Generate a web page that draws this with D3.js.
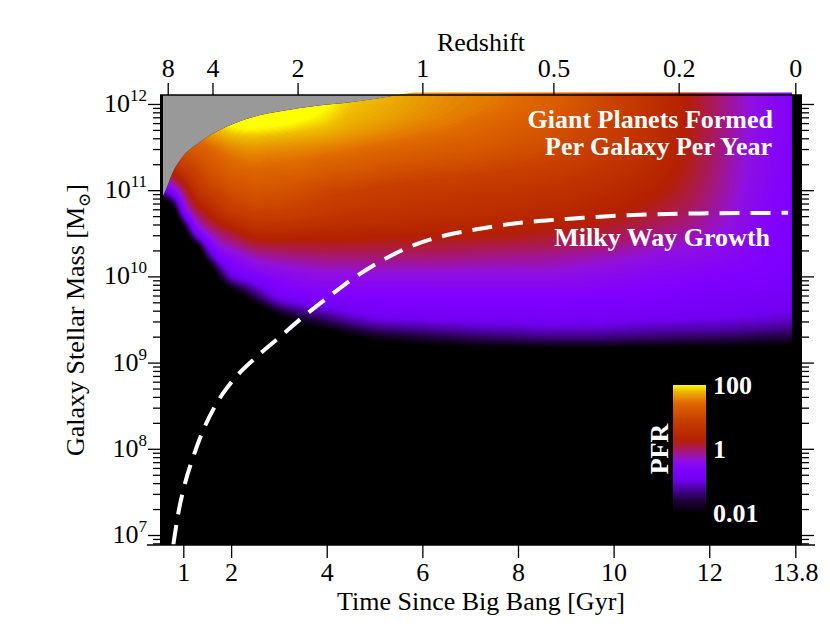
<!DOCTYPE html>
<html>
<head>
<meta charset="utf-8">
<script src="https://cdn.jsdelivr.net/npm/d3@7"></script>
<style>
  body { margin: 0; background: #fff; }
  svg { display: block; }
  text { font-family: 'Liberation Serif', 'DejaVu Serif', serif; }
</style>
</head>
<body>
<div id="chart"></div>
<script>
// ---- data ----
// heatmap grid: columns are cosmic time (Gyr), rows are log10 stellar mass
const timeGrid = [0.5, 1, 1.5, 2, 2.5, 3, 3.5, 4, 4.5, 5, 5.5, 6, 6.5, 7, 7.5,
                  8, 8.5, 9, 9.5, 10, 10.5, 11, 11.5, 12, 12.5, 13, 13.5, 14];
const massGrid = [12.25, 12, 11.75, 11.5, 11.25, 11, 10.75, 10.5, 10.25, 10, 9.75, 9.5, 9.25, 9];
// log10(PFR) per time column, top (high mass) to bottom
const pfrLog = [
  [0.3, 0.3, 0.3, 0.2, -0.2, -1.1, -3, -3, -3, -3, -3, -3, -3, -3],
  [1.3, 1.3, 1.3, 1.2, 0.8, 0.0, -0.7, -2.4, -3, -3, -3, -3, -3, -3],
  [1.9, 1.9, 1.8, 1.4, 1.15, 0.85, 0.3, -0.3, -1.4, -3, -3, -3, -3, -3],
  [2.3, 2.3, 2.0, 1.6, 1.35, 1.1, 0.8, 0.1, -0.45, -1.0, -2.6, -3, -3, -3],
  [2.4, 2.4, 2.05, 1.65, 1.42, 1.2, 0.95, 0.45, -0.2, -0.65, -1.6, -3, -3, -3],
  [2.4, 2.3, 2.0, 1.62, 1.4, 1.17, 0.92, 0.45, -0.12, -0.52, -0.88, -2.2, -3, -3],
  [2.3, 2.2, 1.92, 1.6, 1.37, 1.1, 0.86, 0.42, -0.07, -0.44, -0.74, -1.7, -2.8, -3],
  [2.1, 2.0, 1.85, 1.55, 1.3, 1.0, 0.78, 0.4, -0.02, -0.4, -0.68, -1.45, -2.6, -3],
  [1.9, 1.85, 1.75, 1.5, 1.24, 0.94, 0.72, 0.38, -0.02, -0.4, -0.66, -1.15, -2.3, -3],
  [1.8, 1.78, 1.67, 1.45, 1.18, 0.88, 0.68, 0.36, -0.02, -0.4, -0.65, -1.0, -2.0, -3],
  [1.72, 1.72, 1.62, 1.4, 1.13, 0.84, 0.65, 0.35, -0.02, -0.4, -0.65, -0.95, -1.9, -3],
  [1.66, 1.66, 1.56, 1.35, 1.08, 0.8, 0.62, 0.33, -0.03, -0.4, -0.64, -0.92, -1.8, -3],
  [1.6, 1.6, 1.5, 1.3, 1.05, 0.77, 0.59, 0.31, -0.05, -0.4, -0.64, -0.9, -1.72, -3],
  [1.55, 1.55, 1.44, 1.26, 1.01, 0.74, 0.56, 0.29, -0.07, -0.4, -0.64, -0.88, -1.65, -3],
  [1.5, 1.5, 1.38, 1.2, 0.97, 0.71, 0.53, 0.27, -0.09, -0.4, -0.64, -0.87, -1.6, -3],
  [1.45, 1.45, 1.3, 1.15, 0.93, 0.68, 0.5, 0.25, -0.1, -0.4, -0.64, -0.86, -1.55, -3],
  [1.35, 1.35, 1.22, 1.1, 0.88, 0.64, 0.46, 0.22, -0.12, -0.4, -0.64, -0.85, -1.52, -3],
  [1.25, 1.25, 1.12, 1.0, 0.81, 0.6, 0.42, 0.18, -0.15, -0.42, -0.65, -0.85, -1.5, -3],
  [1.1, 1.1, 1.0, 0.9, 0.74, 0.54, 0.36, 0.13, -0.2, -0.45, -0.66, -0.86, -1.5, -3],
  [0.95, 0.95, 0.88, 0.8, 0.65, 0.47, 0.3, 0.06, -0.25, -0.48, -0.68, -0.88, -1.52, -3],
  [0.75, 0.75, 0.7, 0.64, 0.53, 0.38, 0.22, -0.02, -0.31, -0.52, -0.7, -0.9, -1.55, -3],
  [0.52, 0.52, 0.5, 0.46, 0.38, 0.27, 0.13, -0.1, -0.36, -0.56, -0.72, -0.92, -1.58, -3],
  [0.28, 0.28, 0.28, 0.26, 0.21, 0.13, 0.02, -0.18, -0.41, -0.59, -0.75, -0.95, -1.6, -3],
  [0.04, 0.04, 0.04, 0.03, 0.0, -0.07, -0.15, -0.29, -0.46, -0.62, -0.77, -0.98, -1.62, -3],
  [-0.2, -0.2, -0.2, -0.21, -0.23, -0.27, -0.32, -0.4, -0.51, -0.64, -0.8, -1.0, -1.65, -3],
  [-0.4, -0.4, -0.4, -0.42, -0.44, -0.47, -0.5, -0.55, -0.6, -0.68, -0.82, -1.02, -1.7, -3],
  [-0.55, -0.55, -0.55, -0.56, -0.58, -0.6, -0.62, -0.64, -0.67, -0.72, -0.85, -1.05, -1.75, -3],
  [-0.6, -0.6, -0.6, -0.61, -0.62, -0.64, -0.66, -0.68, -0.7, -0.75, -0.88, -1.1, -1.8, -3]
];
// finer columns for the first 3 Gyr, where the band bends quickly
const timeGridEarly = [0.5, 0.75, 1, 1.25, 1.5, 1.75, 2, 2.25, 2.5, 2.75, 3];
const pfrLogEarly = [
  [0.3, 0.3, 0.3, 0.2, -0.2, -1.1, -3, -3, -3, -3, -3, -3, -3, -3],
  [0.9, 0.9, 0.9, 0.8, 0.4, -0.6, -2.6, -3, -3, -3, -3, -3, -3, -3],
  [1.3, 1.3, 1.3, 1.2, 0.8, 0.0, -0.7, -2.4, -3, -3, -3, -3, -3, -3],
  [1.6, 1.6, 1.6, 1.3, 0.95, 0.6, 0.0, -0.85, -3, -3, -3, -3, -3, -3],
  [1.9, 1.9, 1.8, 1.4, 1.15, 0.85, 0.3, -0.3, -1.4, -3, -3, -3, -3, -3],
  [2.1, 2.1, 1.9, 1.5, 1.25, 1.0, 0.6, -0.05, -0.6, -1.8, -3, -3, -3, -3],
  [2.3, 2.3, 2.0, 1.6, 1.35, 1.1, 0.8, 0.1, -0.45, -1.0, -2.6, -3, -3, -3],
  [2.4, 2.4, 2.05, 1.63, 1.4, 1.15, 0.88, 0.3, -0.32, -0.8, -2.1, -3, -3, -3],
  [2.4, 2.4, 2.05, 1.65, 1.42, 1.2, 0.95, 0.45, -0.2, -0.65, -1.6, -3, -3, -3],
  [2.4, 2.35, 2.03, 1.64, 1.41, 1.18, 0.93, 0.45, -0.15, -0.57, -1.2, -2.6, -3, -3],
  [2.4, 2.3, 2.0, 1.62, 1.4, 1.17, 0.92, 0.45, -0.12, -0.52, -0.88, -2.2, -3, -3]
];

// upper edge of the populated region (above it: grey, no galaxies)
const edgeTime = [0.5, 0.58, 0.79, 0.99, 1.35, 1.7, 2.4, 3.09, 3.79, 4.49, 5.68, 6.5, 14];
const edgeLogM = [10.88, 10.94, 11.22, 11.39, 11.56, 11.68, 11.84, 11.92, 11.98, 12.02, 12.12, 12.2, 12.2];

// Milky Way growth track
const mwTime = [0.79, 0.895, 1.036, 1.209, 1.418, 1.699, 2.046, 2.536, 3.023, 3.51, 4.0, 4.556,
                5.115, 5.743, 6.51, 7.138, 7.836, 8.531, 9.23, 9.717, 10.76, 11.81, 12.8, 13.65];
const mwLogM = [6.884, 7.252, 7.6, 7.908, 8.218, 8.528, 8.798, 9.068, 9.3, 9.532, 9.746, 9.978,
                10.171, 10.345, 10.48, 10.546, 10.608, 10.646, 10.674, 10.693, 10.718, 10.73, 10.735, 10.737];

const timeTicks = [1, 2, 4, 6, 8, 10, 12, 13.8];
const redshiftLabels = ['8', '4', '2', '1', '0.5', '0.2', '0'];
const redshiftTimes = [0.674, 1.61, 3.39, 6.0, 8.74, 11.36, 13.8];
const massDecades = [7, 8, 9, 10, 11, 12];
const legendTicks = [100, 1, 0.01];
const legendLabels = ['100', '1', '0.01'];

// colour map for log10(PFR)
const cmapStops = [-2, -1.6, -0.96, -0.64, -0.34, -0.04, 0.28, 0.92, 1.44, 1.84, 2];
const cmapColors = ['#000000', '#200040', '#7000f0', '#8000ff', '#9010e0', '#a8186a',
                    '#b42000', '#c84000', '#e06800', '#f0c000', '#ffff00'];

// ---- layout ----
const W = 830, H = 642;
const plot = { left: 160, right: 802, top: 95, bottom: 545 };
const dataEnd = 13.73;
const serif = 'Liberation Serif';

const x = d3.scaleLinear().domain([0.5, 13.94]).range([159.4, 802]);
const y = d3.scaleLog().domain([10 ** 6.884, 10 ** 12.104]).range([545, 95]);
const ym = lm => y(10 ** lm);
const color = d3.scaleLinear().domain(cmapStops).range(cmapColors).clamp(true);

const svg = d3.select('#chart').append('svg')
  .attr('width', W).attr('height', H)
  .attr('font-family', serif);
svg.append('rect').attr('width', W).attr('height', H).attr('fill', '#fff');

const defs = svg.append('defs');
defs.append('clipPath').attr('id', 'plotClip').append('rect')
  .attr('x', plot.left).attr('y', plot.top)
  .attr('width', plot.right - plot.left).attr('height', plot.bottom - plot.top);
defs.append('clipPath').attr('id', 'dataClip').append('rect')
  .attr('x', plot.left).attr('y', plot.top - 2.5)
  .attr('width', x(dataEnd) - plot.left).attr('height', plot.bottom - plot.top + 2.5);

const edgePts = edgeTime.map((t, i) => [t, edgeLogM[i]]);
const belowEdge = d3.area()
  .x(d => x(d[0])).y0(plot.bottom).y1(d => ym(d[1]))
  .curve(d3.curveMonotoneX);
defs.append('clipPath').attr('id', 'edgeClip').append('path')
  .attr('d', belowEdge(edgePts));

// plot background
svg.append('rect')
  .attr('x', plot.left).attr('y', plot.top)
  .attr('width', plot.right - plot.left).attr('height', plot.bottom - plot.top)
  .attr('fill', '#000');

// ---- heatmap: grid -> small value image -> smoothed up to plot -> colour map ----
const vMin = -3, vMax = 2.5;
const big = document.createElement('canvas');
big.width = W; big.height = H;
const bctx = big.getContext('2d');
bctx.imageSmoothingEnabled = true;
bctx.imageSmoothingQuality = 'high';

function paintGrid(times, grid, clipRight) {
  const nT = times.length, nM = massGrid.length;
  const dt = times[1] - times[0];
  const dm = massGrid[0] - massGrid[1];
  const small = document.createElement('canvas');
  small.width = nT; small.height = nM;
  const sctx = small.getContext('2d');
  const sImg = sctx.createImageData(nT, nM);
  grid.forEach((col, i) => col.forEach((v, j) => {
    const g = Math.round((v - vMin) / (vMax - vMin) * 255);
    const k = (j * nT + i) * 4;
    sImg.data[k] = sImg.data[k + 1] = sImg.data[k + 2] = g;
    sImg.data[k + 3] = 255;
  }));
  sctx.putImageData(sImg, 0, 0);
  const x0 = x(times[0] - dt / 2), x1 = x(times[nT - 1] + dt / 2);
  const y0 = ym(massGrid[0] + dm / 2), y1 = ym(massGrid[nM - 1] - dm / 2);
  bctx.save();
  bctx.beginPath();
  bctx.rect(0, 0, clipRight, H);
  bctx.clip();
  bctx.drawImage(small, x0, y0, x1 - x0, y1 - y0);
  bctx.restore();
}
paintGrid(timeGrid, pfrLog, W);
paintGrid(timeGridEarly, pfrLogEarly, x(timeGridEarly[timeGridEarly.length - 1]));

const lut = d3.range(256).map(g => d3.rgb(color(vMin + g / 255 * (vMax - vMin))));
const img = bctx.getImageData(0, 0, W, H);
for (let k = 0; k < img.data.length; k += 4) {
  if (img.data[k + 3] === 0) continue;
  const c = lut[img.data[k]];
  img.data[k] = c.r; img.data[k + 1] = c.g; img.data[k + 2] = c.b; img.data[k + 3] = 255;
}
bctx.putImageData(img, 0, 0);

svg.append('g').attr('clip-path', 'url(#dataClip)')
  .append('image')
  .attr('href', big.toDataURL())
  .attr('width', W).attr('height', H)
  .attr('clip-path', 'url(#edgeClip)');

// grey region above the populated edge
svg.append('path')
  .attr('clip-path', 'url(#plotClip)')
  .attr('d', d3.area().x(d => x(d[0])).y0(plot.top).y1(d => ym(d[1]))
    .curve(d3.curveMonotoneX)(edgePts))
  .attr('fill', '#999');

// Milky Way track
svg.append('path')
  .attr('clip-path', 'url(#plotClip)')
  .datum(mwTime.map((t, i) => [t, mwLogM[i]]))
  .attr('d', d3.line().x(d => x(d[0])).y(d => ym(d[1])).curve(d3.curveMonotoneX))
  .attr('fill', 'none')
  .attr('stroke', '#fff')
  .attr('stroke-width', 4)
  .attr('stroke-dasharray', '20,11');

// ---- frame and axes ----
const minorTicks = [];
massDecades.concat([6]).forEach(d => {
  for (let m = 2; m <= 9; m++) {
    const v = m * 10 ** d;
    if (v > y.domain()[0] && v < y.domain()[1]) minorTicks.push(v);
  }
});
const majorTicks = massDecades.map(d => 10 ** d);

function styleAxis(g) {
  g.attr('font-family', serif).attr('font-size', 26);
  g.select('.domain').remove();
  g.selectAll('line').attr('stroke', '#000').attr('stroke-width', 1.3);
  g.selectAll('text').attr('fill', '#000');
}

svg.append('g').attr('transform', `translate(${plot.left},0)`)
  .call(d3.axisLeft(y).tickValues(majorTicks).tickSize(12).tickFormat(''))
  .call(styleAxis);
svg.append('g').attr('transform', `translate(${plot.left},0)`)
  .call(d3.axisLeft(y).tickValues(minorTicks).tickSize(7).tickFormat(''))
  .call(styleAxis);
svg.append('g').attr('transform', `translate(${plot.right},0)`)
  .call(d3.axisRight(y).tickValues(majorTicks).tickSize(12).tickFormat(''))
  .call(styleAxis);
svg.append('g').attr('transform', `translate(${plot.right},0)`)
  .call(d3.axisRight(y).tickValues(minorTicks).tickSize(7).tickFormat(''))
  .call(styleAxis);

// mass labels 10^n
const massLab = svg.append('g').attr('font-family', serif);
massDecades.forEach(d => {
  const t = massLab.append('text')
    .attr('x', 147).attr('y', y(10 ** d) + 8)
    .attr('text-anchor', 'end').attr('font-size', 26);
  t.append('tspan').text('10');
  t.append('tspan').attr('font-size', 17).attr('dy', -11).text(d);
});

svg.append('g').attr('transform', `translate(0,${plot.bottom})`)
  .call(d3.axisBottom(x).tickValues(timeTicks).tickSize(13).tickPadding(5)
    .tickFormat(d => String(d)))
  .call(styleAxis);

svg.append('g').attr('transform', `translate(0,${plot.top})`)
  .call(d3.axisTop(x).tickValues(redshiftTimes).tickSize(12).tickPadding(6)
    .tickFormat((d, i) => redshiftLabels[i]))
  .call(styleAxis);

// frame lines
svg.append('line').attr('x1', 147).attr('x2', 815)
  .attr('y1', plot.bottom).attr('y2', plot.bottom)
  .attr('stroke', '#000').attr('stroke-width', 1.5);
svg.append('line').attr('x1', plot.left).attr('x2', plot.right)
  .attr('y1', plot.top).attr('y2', plot.top)
  .attr('stroke', '#000').attr('stroke-width', 1.5);
svg.append('line').attr('x1', plot.left + 1.5).attr('x2', plot.left + 1.5)
  .attr('y1', plot.top).attr('y2', plot.bottom)
  .attr('stroke', '#000').attr('stroke-width', 3);

// axis titles
svg.append('text').attr('x', (plot.left + plot.right) / 2).attr('y', 51)
  .attr('text-anchor', 'middle').attr('font-size', 26).text('Redshift');
svg.append('text').attr('x', (plot.left + plot.right) / 2).attr('y', 610)
  .attr('text-anchor', 'middle').attr('font-size', 26).text('Time Since Big Bang [Gyr]');
const yTitle = svg.append('text')
  .attr('transform', `translate(84,${(plot.top + plot.bottom) / 2}) rotate(-90)`)
  .attr('text-anchor', 'middle').attr('font-size', 26);
yTitle.append('tspan').text('Galaxy Stellar Mass [M');
yTitle.append('tspan').attr('font-size', 17).attr('dy', 6)
  .style('font-family', "'DejaVu Serif', serif").text('\u2299');
yTitle.append('tspan').attr('dy', -6).text(']');

// in-plot annotations
const note = svg.append('g').attr('fill', '#fff').attr('font-weight', 'bold')
  .attr('font-size', 26).attr('text-anchor', 'end');
note.append('text').attr('x', 773).attr('y', 128).text('Giant Planets Formed');
note.append('text').attr('x', 772).attr('y', 154.5).text('Per Galaxy Per Year');
note.append('text').attr('x', 770).attr('y', 246).text('Milky Way Growth');

// ---- colour bar ----
const ly = d3.scaleLog().domain([0.01, 100]).range([513, 385]);
const grad = defs.append('linearGradient').attr('id', 'pfrGrad')
  .attr('x1', 0).attr('y1', 1).attr('x2', 0).attr('y2', 0);
d3.range(41).forEach(i => {
  const v = -2 + i * 0.1;
  grad.append('stop').attr('offset', (i / 40 * 100) + '%').attr('stop-color', color(v));
});
svg.append('rect')
  .attr('x', 673).attr('y', ly(100))
  .attr('width', 33).attr('height', ly(0.01) - ly(100))
  .attr('fill', 'url(#pfrGrad)');
svg.append('g').selectAll('text').data(legendTicks).join('text')
  .attr('x', 713).attr('y', d => ly(d)).attr('dy', '0.35em')
  .attr('fill', '#fff').attr('font-weight', 'bold').attr('font-size', 26)
  .text((d, i) => legendLabels[i]);
svg.append('text')
  .attr('transform', `translate(659,${ly(1)}) rotate(-90)`)
  .attr('dy', '0.35em').attr('text-anchor', 'middle')
  .attr('fill', '#fff').attr('font-weight', 'bold').attr('font-size', 26)
  .text('PFR');
</script>
</body>
</html>
